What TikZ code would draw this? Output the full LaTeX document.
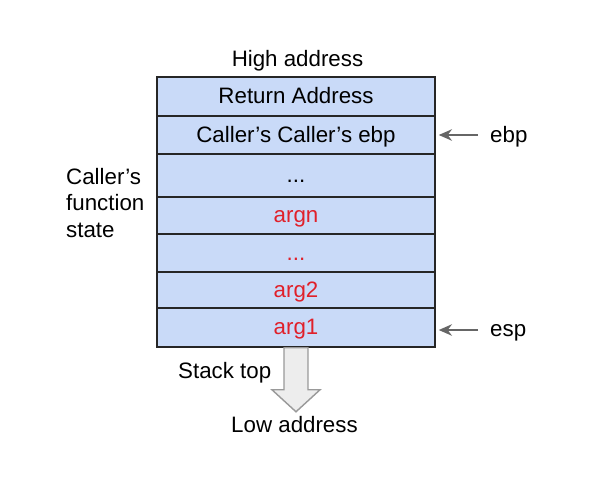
\documentclass[tikz,border=0pt]{standalone}
\usepackage{fontspec}
\setmainfont{Liberation Sans}
\usetikzlibrary{arrows.meta}
\definecolor{cellblue}{HTML}{C9DAF8}
\definecolor{argred}{HTML}{E0202A}
\definecolor{ptrgray}{HTML}{666666}
\begin{document}
\begin{tikzpicture}[
  x=0.02cm, y=-0.02cm,
  every node/.style={font=\fontsize{12.7}{15.3}\selectfont},
  cell/.style={draw=black!85, line width=0.9pt, fill=cellblue, minimum width=5.56cm,
               text height=0.95em, text depth=0.1em, inner sep=0pt},
  arg/.style={cell, text=argred},
  ptr/.style={-{Stealth[length=7.5pt, width=6.5pt]}, line width=1.3pt, draw=ptrgray},
]
  \useasboundingbox (0,0) rectangle (600,480);

  % stack frame
  \node (high) at (297.5, 61) {High address};
  \node[cell, minimum height=0.78cm] (r1) at (296, 96.5)  {Return Address};
  \node[cell, minimum height=0.76cm] (r2) at (296, 135)   {Caller’s Caller’s ebp};
  \node[cell, minimum height=0.86cm] (r3) at (296, 175.5) {...};
  \node[arg,  minimum height=0.74cm] (r4) at (296, 215.5) {argn};
  \node[arg,  minimum height=0.76cm] (r5) at (296, 253)   {...};
  \node[arg,  minimum height=0.72cm] (r6) at (296, 290)   {arg2};
  \node[arg,  minimum height=0.78cm] (r7) at (296, 327.5) {arg1};

  % left label
  \node[align=left, anchor=west] (state) at (60, 203) {Caller’s\\function\\state};

  % registers
  \node[anchor=west] (ebp) at (484, 137) {ebp};
  \node[anchor=west] (esp) at (484, 333) {esp};
  \draw[ptr] ([xshift=-3.4pt]ebp.west |- r2.east) -- ([xshift=1.7pt]r2.east);
  \draw[ptr] ([xshift=-3.4pt, yshift=1.7pt]esp.west) -- ([xshift=1.7pt, yshift=1.7pt]r7.east |- esp.west);

  % growth arrow
  \draw[draw=black!40, fill=black!7, line width=0.8pt]
    (r7.south) ++(-12,0) -- ++(0,42) -- ++(-12,0) -- ++(24,22)
    -- ++(24,-22) -- ++(-12,0) -- ++(0,-42) -- cycle;
  \node[anchor=west] (top) at (172, 373) {Stack top};
  \node (low) at (294.5, 425) {Low address};
\end{tikzpicture}
\end{document}
